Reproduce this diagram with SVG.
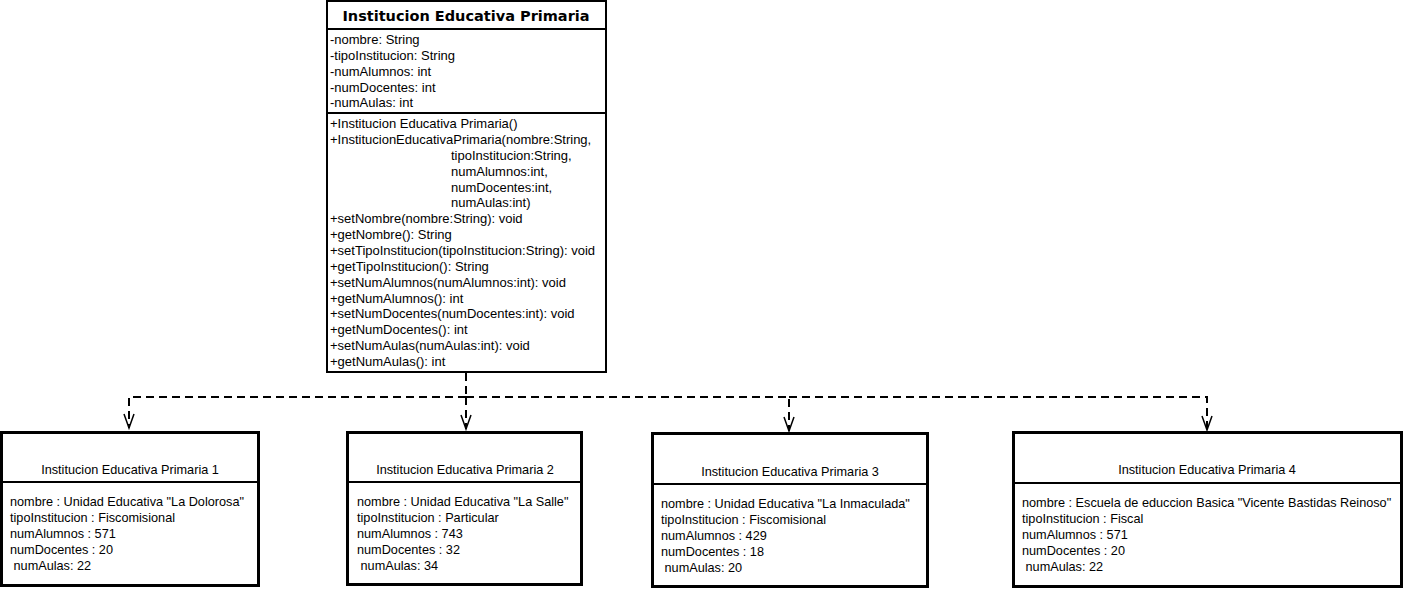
<svg xmlns="http://www.w3.org/2000/svg" width="1404" height="589" viewBox="0 0 1404 589">
<style>
.bg{fill:#fff}
.box{fill:#fff;stroke:#000;stroke-width:2}
.obj{fill:#fff;stroke:#000;stroke-width:3}
.sep{stroke:#000;stroke-width:2}
.t{font-family:"Liberation Sans",Arial,sans-serif;font-size:13px;fill:#000}
.title{font-family:"DejaVu Sans","Liberation Sans",sans-serif;font-size:14.5px;font-weight:bold;fill:#000}
.ot{font-family:"Liberation Sans",Arial,sans-serif;font-size:12.7px;fill:#000}
.dash{fill:none;stroke:#000;stroke-width:2;stroke-dasharray:8 5}
.arr{fill:none;stroke:#000;stroke-width:1.5}
</style>
<rect class="bg" x="0" y="0" width="1404" height="589"/>
<g id="clase">
<rect class="box" x="327" y="1" width="279" height="371"/>
<line class="sep" x1="327" y1="29" x2="606" y2="29"/>
<line class="sep" x1="327" y1="113" x2="606" y2="113"/>
<text class="title" x="466" y="21" text-anchor="middle">Institucion Educativa Primaria</text>
<text class="t" x="330" y="44">-nombre: String</text>
<text class="t" x="330" y="60">-tipoInstitucion: String</text>
<text class="t" x="330" y="76">-numAlumnos: int</text>
<text class="t" x="330" y="92">-numDocentes: int</text>
<text class="t" x="330" y="107">-numAulas: int</text>
<text class="t" x="330" y="128">+Institucion Educativa Primaria()</text>
<text class="t" x="330" y="144">+InstitucionEducativaPrimaria(nombre:String,</text>
<text class="t" x="451" y="160">tipoInstitucion:String,</text>
<text class="t" x="451" y="176">numAlumnos:int,</text>
<text class="t" x="451" y="192">numDocentes:int,</text>
<text class="t" x="451" y="207">numAulas:int)</text>
<text class="t" x="330" y="223">+setNombre(nombre:String): void</text>
<text class="t" x="330" y="239">+getNombre(): String</text>
<text class="t" x="330" y="255">+setTipoInstitucion(tipoInstitucion:String): void</text>
<text class="t" x="330" y="271">+getTipoInstitucion(): String</text>
<text class="t" x="330" y="287">+setNumAlumnos(numAlumnos:int): void</text>
<text class="t" x="330" y="303">+getNumAlumnos(): int</text>
<text class="t" x="330" y="318">+setNumDocentes(numDocentes:int): void</text>
<text class="t" x="330" y="334">+getNumDocentes(): int</text>
<text class="t" x="330" y="350">+setNumAulas(numAulas:int): void</text>
<text class="t" x="330" y="366">+getNumAulas(): int</text>
</g>
<g id="conectores">
<path class="dash" d="M466 373 V397"/>
<path class="dash" d="M466 397 H129 V428"/>
<path class="dash" d="M466 397 V429"/>
<path class="dash" d="M466 397 H789 V431"/>
<path class="dash" d="M789 397 H1207 V430"/>
<path class="arr" d="M124 414 L129 428 L134 414"/>
<path class="arr" d="M461 415 L466 429 L471 415"/>
<path class="arr" d="M784 417 L789 431 L794 417"/>
<path class="arr" d="M1202 416 L1207 430 L1212 416"/>
</g>
<g id="obj1">
<rect class="obj" x="1.5" y="432.5" width="257" height="153"/>
<line class="sep" x1="1.5" y1="482" x2="258.5" y2="482"/>
<text class="ot" x="130" y="474" text-anchor="middle">Institucion Educativa Primaria 1</text>
<text class="ot" x="10" y="506">nombre : Unidad Educativa "La Dolorosa"</text>
<text class="ot" x="10" y="522">tipoInstitucion : Fiscomisional</text>
<text class="ot" x="10" y="538">numAlumnos : 571</text>
<text class="ot" x="10" y="554">numDocentes : 20</text>
<text class="ot" x="10" y="570" xml:space="preserve"> numAulas: 22</text>
</g>
<g id="obj2">
<rect class="obj" x="347.5" y="432.5" width="234" height="152"/>
<line class="sep" x1="347.5" y1="482" x2="581.5" y2="482"/>
<text class="ot" x="465" y="474" text-anchor="middle">Institucion Educativa Primaria 2</text>
<text class="ot" x="357" y="506">nombre : Unidad Educativa "La Salle"</text>
<text class="ot" x="357" y="522">tipoInstitucion : Particular</text>
<text class="ot" x="357" y="538">numAlumnos : 743</text>
<text class="ot" x="357" y="554">numDocentes : 32</text>
<text class="ot" x="357" y="570" xml:space="preserve"> numAulas: 34</text>
</g>
<g id="obj3">
<rect class="obj" x="652.5" y="433.5" width="275" height="153"/>
<line class="sep" x1="652.5" y1="484" x2="927.5" y2="484"/>
<text class="ot" x="790" y="476" text-anchor="middle">Institucion Educativa Primaria 3</text>
<text class="ot" x="661" y="508">nombre : Unidad Educativa "La Inmaculada"</text>
<text class="ot" x="661" y="524">tipoInstitucion : Fiscomisional</text>
<text class="ot" x="661" y="540">numAlumnos : 429</text>
<text class="ot" x="661" y="556">numDocentes : 18</text>
<text class="ot" x="661" y="572" xml:space="preserve"> numAulas: 20</text>
</g>
<g id="obj4">
<rect class="obj" x="1013.5" y="432.5" width="388" height="154"/>
<line class="sep" x1="1013.5" y1="483" x2="1401.5" y2="483"/>
<text class="ot" x="1207" y="474" text-anchor="middle">Institucion Educativa Primaria 4</text>
<text class="ot" x="1022" y="507">nombre : Escuela de educcion Basica "Vicente Bastidas Reinoso"</text>
<text class="ot" x="1022" y="523">tipoInstitucion : Fiscal</text>
<text class="ot" x="1022" y="539">numAlumnos : 571</text>
<text class="ot" x="1022" y="555">numDocentes : 20</text>
<text class="ot" x="1022" y="571" xml:space="preserve"> numAulas: 22</text>
</g>
</svg>
